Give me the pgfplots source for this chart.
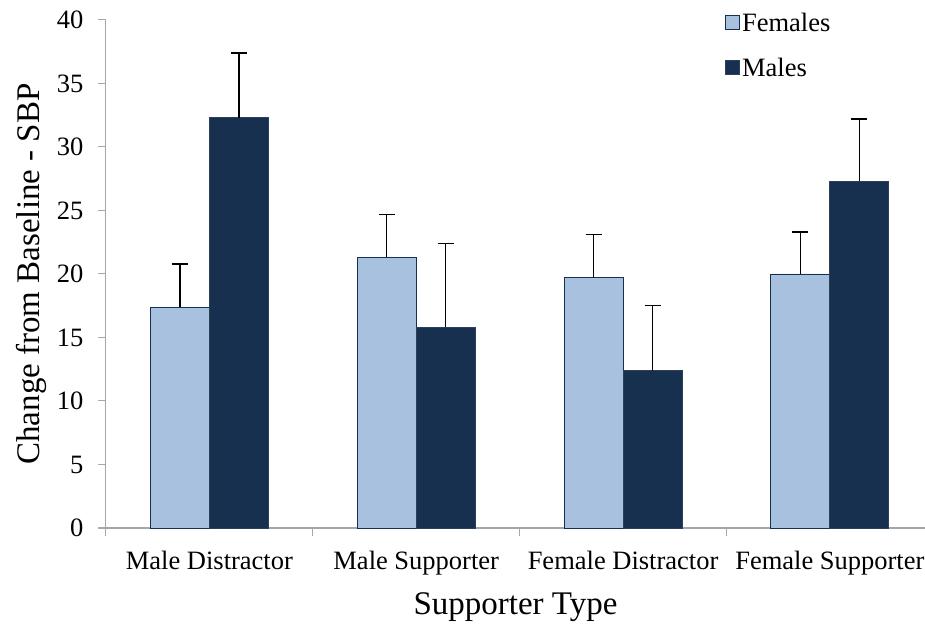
\documentclass[border=0pt]{standalone}
\usepackage{fontspec}
\setmainfont{Liberation Serif}
\usepackage{pgfplots}
\pgfplotsset{compat=1.18}
\definecolor{femc}{HTML}{A7C1DF}
\definecolor{malec}{HTML}{17304F}
\definecolor{axisgray}{HTML}{A6A6A6}

\begin{document}
\begin{tikzpicture}
\begin{axis}[
    scale only axis,
    width=819pt, height=508pt,
    ybar=0pt,
    bar width=59pt,
    xmin=-0.5, xmax=3.46,
    ymin=0, ymax=40,
    ytick={0,5,...,40},
    xtick={0,1,2,3},
    xticklabels={Male Distractor, Male Supporter, Female Distractor, Female Supporter},
    minor xtick={-0.5,0.5,1.5,2.5},
    major x tick style={draw=none},
    minor x tick style={axisgray, line width=1pt},
    y tick style={axisgray, line width=1pt},
    major tick length=8pt,
    minor tick length=8pt,
    tick align=outside,
    axis lines*=left,
    axis line style={axisgray, line width=1pt, -},
    /pgf/number format/assume math mode=true,
    ticklabel style={font=\fontsize{26.5}{30}\selectfont, black},
    xticklabel style={yshift=-12pt},
    yticklabel style={xshift=-11pt},
    xlabel={Supporter Type},
    ylabel={Change from Baseline - SBP},
    label style={font=\fontsize{33}{38}\selectfont},
    xlabel style={at={(axis description cs:0.5,-0.155)}, anchor=center},
    ylabel style={at={(axis description cs:-0.091,0.5)}, anchor=center},
    legend cell align=left,
    legend style={draw=none, fill=none, at={(rel axis cs:0.752,1.022)}, anchor=north west,
        font=\fontsize{26.5}{30}\selectfont, row sep=21pt,
        /tikz/every even column/.append style={column sep=2pt}},
    legend image code/.code={\draw[#1, line width=1pt] (0pt,-7pt) rectangle (14pt,7pt);},
    error bars/y dir=plus,
    error bars/y explicit,
    error bars/error bar style={black, line width=1.5pt},
    error bars/error mark options={rotate=90, mark size=8pt, line width=1.5pt, black},
]
\addplot[fill=femc, draw=malec, line width=0.8pt] coordinates {
    (0,17.4) +- (0,3.4)
    (1,21.3) +- (0,3.4)
    (2,19.7) +- (0,3.4)
    (3,20.0) +- (0,3.3)
};
\addlegendentry{Females}
\addplot[fill=malec, draw=malec!80!gray, line width=0.8pt] coordinates {
    (0,32.3) +- (0,5.1)
    (1,15.8) +- (0,6.6)
    (2,12.4) +- (0,5.1)
    (3,27.3) +- (0,4.9)
};
\addlegendentry{Males}
\end{axis}
\pgfresetboundingbox
\path[use as bounding box] (-106pt,-100pt) rectangle (819pt,528pt);
\end{tikzpicture}
\end{document}
